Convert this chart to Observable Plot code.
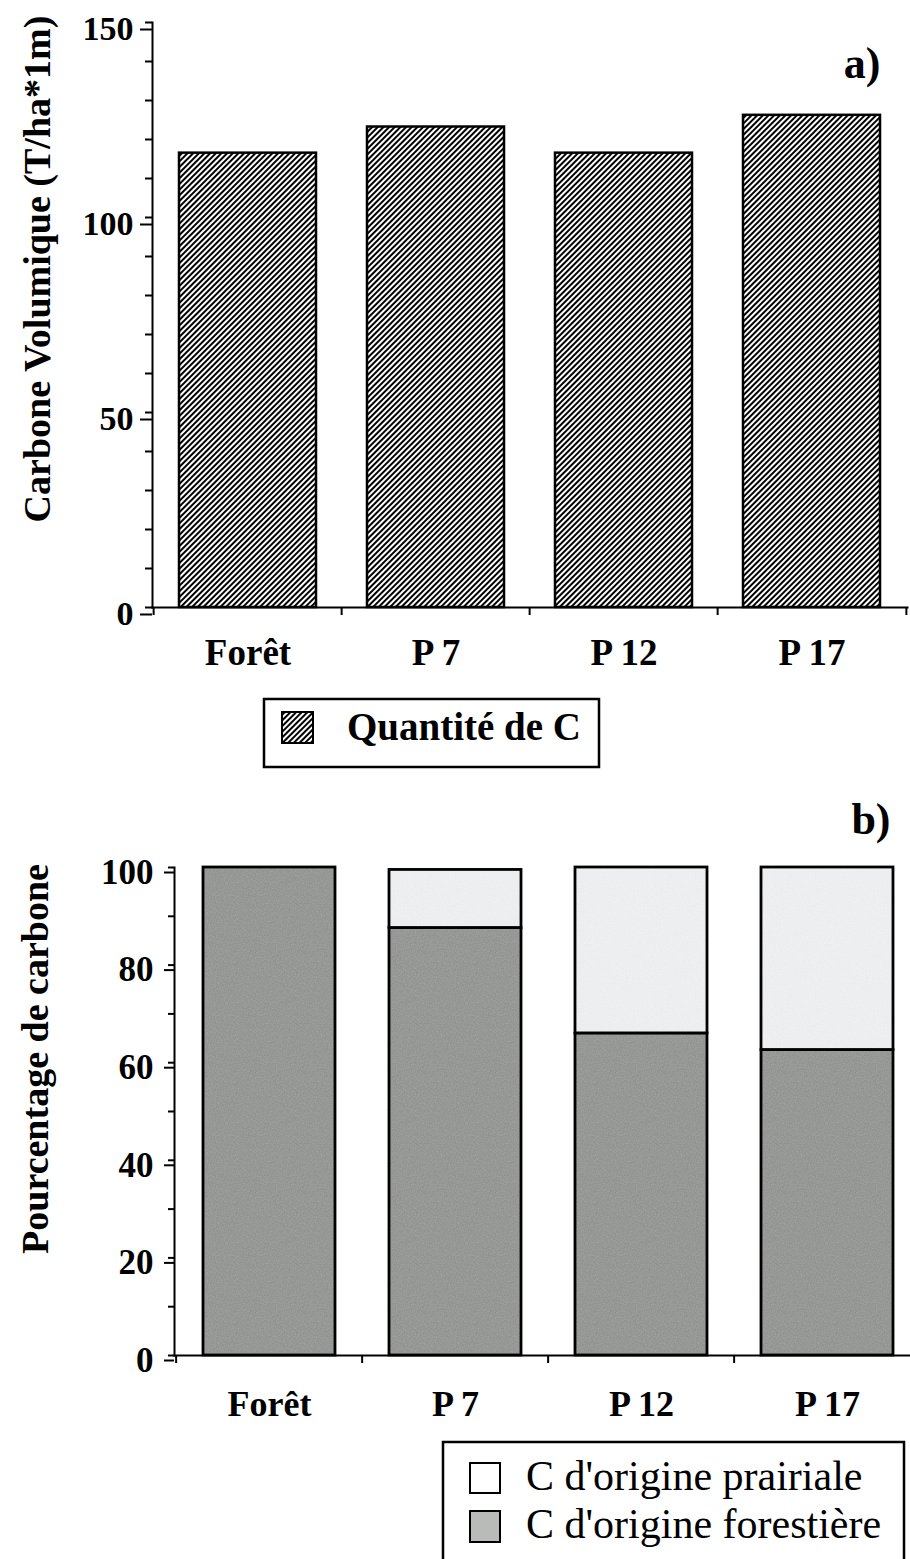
<!DOCTYPE html>
<html><head><meta charset="utf-8">
<script src="https://cdn.jsdelivr.net/npm/d3@7"></script>
<script src="https://cdn.jsdelivr.net/npm/@observablehq/plot@0.6"></script>
<style>
html,body{margin:0;padding:0;background:#fff;overflow:hidden;}
#page{position:relative;width:910px;height:1559px;overflow:hidden;font-family:"Liberation Serif",serif;}
#page > *{position:absolute;}
</style></head>
<body><div id="page"></div>
<script>
// ---- data ----
const sites = ["Forêt", "P 7", "P 12", "P 17"];
const carbonStock = [116.5, 123.2, 116.5, 126.2];
const stockTicks = [0, 50, 100, 150];
const stockMinorTicks = [0, 10, 20, 30, 40, 50, 60, 70, 80, 90, 100, 110, 120, 130, 140, 150];
const origins = ["C d'origine forestière", "C d'origine prairiale"];
const forestShare = [100, 87.6, 66.0, 62.6];
const prairieShare = [0, 11.9, 34.0, 37.4];
const pctTicks = [0, 20, 40, 60, 80, 100];
const pctMinorTicks = [0, 10, 20, 30, 40, 50, 60, 70, 80, 90, 100];
const originColors = ["url(#grainDark)", "url(#grainLight)"];
const legendALabel = "Quantité de C";
const yLabelA = "Carbone Volumique (T/ha*1m)";
const yLabelB = "Pourcentage de carbone";

const page = document.getElementById("page");

// shared defs (hatch + grain patterns)
const defs = document.createElementNS("http://www.w3.org/2000/svg", "svg");
defs.setAttribute("width", 0); defs.setAttribute("height", 0);
defs.innerHTML = `<defs>
<pattern id="hatch" patternUnits="userSpaceOnUse" width="4" height="4" patternTransform="rotate(45)">
<rect width="4" height="4" fill="#fff"/><rect x="0" y="0" width="2" height="4" fill="#000"/>
</pattern>
<filter id="noise" x="0" y="0" width="100%" height="100%">
<feTurbulence type="fractalNoise" baseFrequency="0.85" numOctaves="2" seed="4" stitchTiles="stitch"/>
<feColorMatrix type="saturate" values="0"/>
</filter>
<pattern id="grainDark" patternUnits="userSpaceOnUse" width="120" height="120">
<rect width="120" height="120" fill="#8f918e"/>
<rect width="120" height="120" filter="url(#noise)" opacity="0.35"/>
</pattern>
<pattern id="grainLight" patternUnits="userSpaceOnUse" width="120" height="120">
<rect width="120" height="120" fill="#eff1f2"/>
<rect width="120" height="120" filter="url(#noise)" opacity="0.12"/>
</pattern>
</defs>`;
page.appendChild(defs);

const font = "'Liberation Serif', serif";

// ---- chart a ----
const dataA = sites.map((s, i) => ({site: s, value: carbonStock[i]}));
const stepA = (907 - 152) / sites.length;
const chartA = Plot.plot({
  width: 910, height: 700,
  marginLeft: 152, marginRight: 3, marginTop: 22, marginBottom: 93,
  style: {fontFamily: font, color: "#000", background: "transparent"},
  x: {domain: sites, paddingInner: 0.27, paddingOuter: 0.135, label: null},
  y: {domain: [0, 150], label: null},
  marks: [
    Plot.barY(dataA, {x: "site", y: "value", fill: "url(#hatch)", stroke: "#000", strokeWidth: 2.5}),
    Plot.axisY({ticks: stockMinorTicks, tickSize: 7, tickFormat: () => "", strokeWidth: 2}),
    Plot.axisY({ticks: stockTicks, tickSize: 12, tickPadding: 7, fontSize: 34, fontWeight: "bold", dy: 7, strokeWidth: 2}),
    Plot.frame({anchor: "left", strokeWidth: 2}),
    Plot.frame({anchor: "bottom", strokeWidth: 2}),
    Plot.axisX({tickSize: 0, tickPadding: 31, fontSize: 37, fontWeight: "bold"}),
    Plot.axisX({tickSize: 8, tickFormat: () => "", dx: -stepA / 2, strokeWidth: 2}),
    Plot.axisX({ticks: [sites[sites.length - 1]], tickSize: 8, tickFormat: () => "", dx: stepA / 2, strokeWidth: 2}),
    Plot.text(["a)"], {text: d => d, frameAnchor: "top-right", textAnchor: "end", lineAnchor: "bottom", dx: -27, dy: 55, fontSize: 44, fontWeight: "bold"})
  ]
});
chartA.style.left = "0px"; chartA.style.top = "0px";
page.appendChild(chartA);

// ---- chart b ----
const dataB = [];
origins.forEach((o, j) => sites.forEach((s, i) => {
  const v = j === 0 ? forestShare[i] : prairieShare[i];
  if (v > 0) dataB.push({site: s, origin: o, pct: v});
}));
const xRangeB = [174, 921];
const stepB = (xRangeB[1] - xRangeB[0]) / sites.length;
const chartB = Plot.plot({
  width: 910, height: 645,
  marginLeft: 174, marginRight: 0, marginTop: 87, marginBottom: 70,
  style: {fontFamily: font, color: "#000", background: "transparent"},
  x: {domain: sites, range: xRangeB, paddingInner: 0.293, paddingOuter: 0.1465, label: null},
  y: {domain: [0, 100], label: null},
  color: {domain: origins, range: originColors},
  marks: [
    Plot.barY(dataB, {x: "site", y: "pct", fill: "origin", stroke: "#000", strokeWidth: 2.8}),
    Plot.axisY({ticks: pctMinorTicks, tickSize: 6, tickFormat: () => "", strokeWidth: 2}),
    Plot.axisY({ticks: pctTicks, tickSize: 10, tickPadding: 11, fontSize: 35, fontWeight: "bold", dy: 5, strokeWidth: 2}),
    Plot.frame({anchor: "left", strokeWidth: 2}),
    Plot.frame({anchor: "bottom", strokeWidth: 2}),
    Plot.axisX({tickSize: 0, tickPadding: 35, fontSize: 36, fontWeight: "bold"}),
    Plot.axisX({tickSize: 8, tickFormat: () => "", dx: -stepB / 2, strokeWidth: 2}),
    Plot.text(["b)"], {text: d => d, frameAnchor: "top-right", textAnchor: "end", lineAnchor: "bottom", dx: -20, dy: -34, fontSize: 44, fontWeight: "bold"})
  ]
});
chartB.style.left = "0px"; chartB.style.top = "780px";
page.appendChild(chartB);

// ---- axis titles and legends ----
const leg = document.createElementNS("http://www.w3.org/2000/svg", "svg");
leg.setAttribute("width", 910); leg.setAttribute("height", 1559);
leg.style.left = "0px"; leg.style.top = "0px"; leg.style.pointerEvents = "none";
leg.innerHTML = `
<g font-family="Liberation Serif, serif" fill="#000">
<text transform="translate(37,269) rotate(-90)" text-anchor="middle" dominant-baseline="central" font-size="38" font-weight="bold">${yLabelA}</text>
<text transform="translate(35,1059) rotate(-90)" text-anchor="middle" dominant-baseline="central" font-size="38" font-weight="bold">${yLabelB}</text>
<rect x="264" y="699" width="335" height="68" fill="none" stroke="#000" stroke-width="2.5"/>
<rect x="282" y="712" width="31" height="31" fill="url(#hatch)" stroke="#000" stroke-width="2"/>
<text x="347" y="740" font-size="39" font-weight="bold">${legendALabel}</text>
<rect x="443" y="1442" width="461" height="200" fill="none" stroke="#000" stroke-width="2.5"/>
<rect x="470" y="1463" width="30" height="30" fill="#fff" stroke="#000" stroke-width="2"/>
<rect x="470" y="1511" width="30" height="31" fill="url(#grainLight)" stroke="#000" stroke-width="2"/>
<rect x="470" y="1511" width="30" height="31" fill="#b9bbb9" stroke="#000" stroke-width="2"/>
<text x="526" y="1490" font-size="42">${origins[1]}</text>
<text x="526" y="1538" font-size="42">${origins[0]}</text>
</g>`;
page.appendChild(leg);
</script>
</body></html>
